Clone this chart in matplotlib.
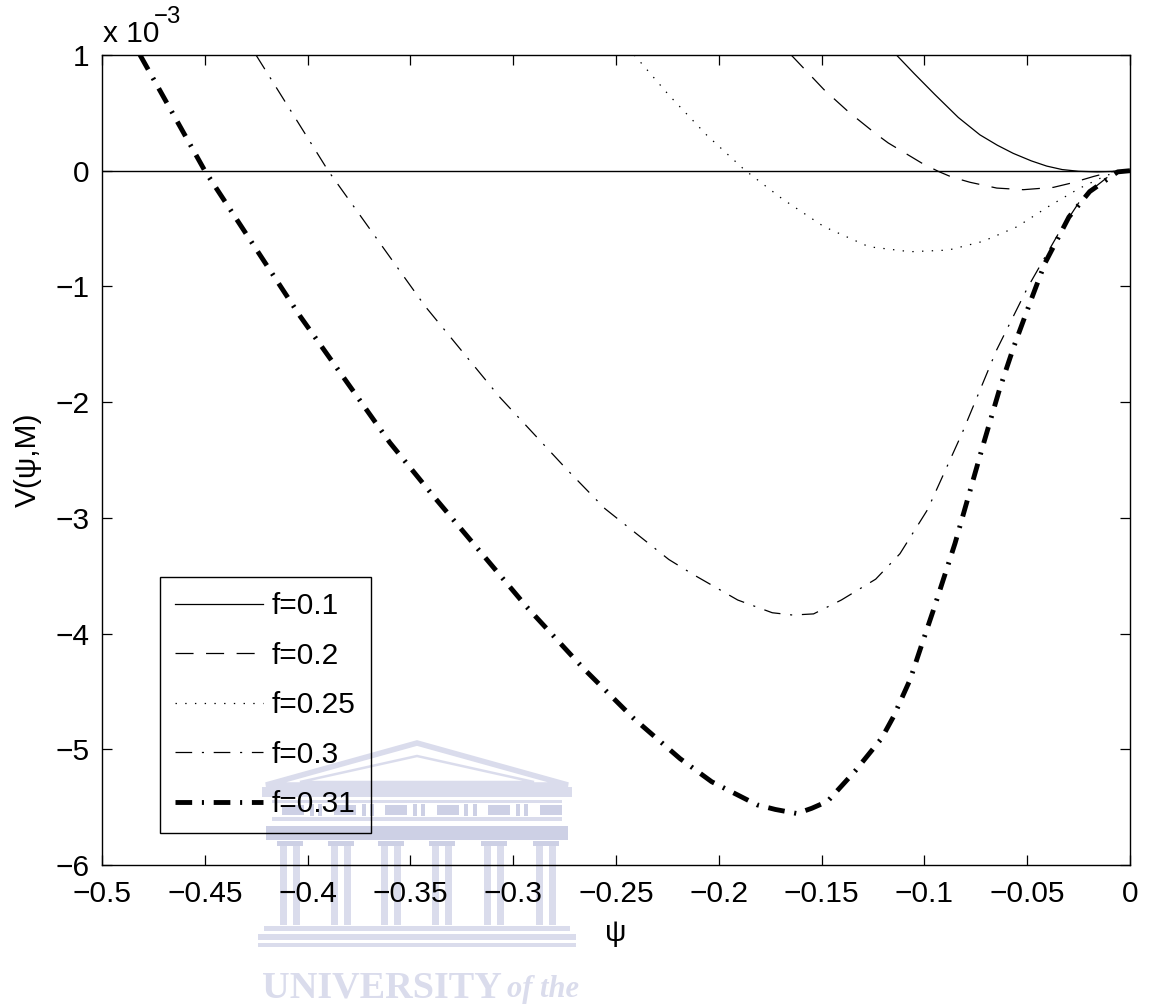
import numpy as np
import matplotlib
matplotlib.use("Agg")
import matplotlib.pyplot as plt
from matplotlib.patches import Rectangle, Polygon

# =====================================
# Potential curves V(psi, M), in units of 1e-3
# =====================================

psi_f01 = [-0.1136, -0.105, -0.095, -0.0835, -0.073, -0.0645, -0.0568, -0.048,
           -0.0405, -0.033, -0.025, -0.016, -0.008, 0.0]
V_f01 = [1.0, 0.84, 0.66, 0.46, 0.31, 0.22, 0.15, 0.085,
         0.04, 0.01, -0.005, -0.01, -0.006, 0.0]

psi_f02 = [-0.1648, -0.1488, -0.137, -0.1237, -0.1176, -0.1013, -0.0932, -0.0867,
           -0.0778, -0.0648, -0.0519, -0.0373, -0.0284, -0.0178, -0.0081, 0.0]
V_f02 = [1.0, 0.70, 0.51, 0.32, 0.24, 0.066, -0.006, -0.055,
         -0.10, -0.15, -0.164, -0.144, -0.106, -0.05, -0.006, 0.0]

psi_f025 = [-0.2411, -0.2243, -0.2059, -0.1874, -0.169, -0.1488, -0.127, -0.1069,
            -0.0884, -0.0716, -0.0549, -0.0398, -0.0247, -0.0112, 0.0]
V_f025 = [1.0, 0.654, 0.308, 0.006, -0.245, -0.484, -0.657, -0.700,
          -0.686, -0.611, -0.484, -0.311, -0.153, -0.037, 0.0]

psi_f03 = [-0.4251, -0.390, -0.3429, -0.3064, -0.274, -0.2554, -0.2243, -0.2124,
           -0.1908, -0.174, -0.164, -0.1539, -0.1404, -0.1237, -0.1119, -0.0985,
           -0.0817, -0.0649, -0.0498, -0.0347, -0.023, -0.0096, 0.0]
V_f03 = [1.0, 0.0, -1.17, -1.96, -2.58, -2.92, -3.36, -3.49,
         -3.71, -3.82, -3.84, -3.83, -3.71, -3.53, -3.31, -2.93,
         -2.27, -1.55, -1.01, -0.54, -0.225, -0.037, 0.0]

psi_f031 = [-0.4815, -0.450, -0.4037, -0.36, -0.3389, -0.2934, -0.2659, -0.2416,
            -0.2189, -0.2035, -0.1814, -0.1725, -0.162, -0.1548, -0.1471, -0.1338,
            -0.1208, -0.1151, -0.107, -0.1008, -0.0953, -0.0851, -0.0716, -0.0633,
            -0.0565, -0.0482, -0.0414, -0.0297, -0.0196, -0.006, 0.0]
V_f031 = [1.0, 0.0, -1.256, -2.35, -2.81, -3.77, -4.30, -4.73,
          -5.08, -5.28, -5.48, -5.52, -5.555, -5.51, -5.45, -5.19,
          -4.905, -4.72, -4.40, -4.07, -3.78, -3.22, -2.38, -1.88,
          -1.52, -1.12, -0.80, -0.40, -0.18, -0.01, 0.0]

labels = ["f=0.1", "f=0.2", "f=0.25", "f=0.3", "f=0.31"]

xticks = [-0.5, -0.45, -0.4, -0.35, -0.3, -0.25, -0.2, -0.15, -0.1, -0.05, 0.0]
xtick_labels = ["\u22120.5", "\u22120.45", "\u22120.4", "\u22120.35", "\u22120.3",
                "\u22120.25", "\u22120.2", "\u22120.15", "\u22120.1", "\u22120.05", "0"]
yticks = [-6, -5, -4, -3, -2, -1, 0, 1]
ytick_labels = ["\u22126", "\u22125", "\u22124", "\u22123", "\u22122", "\u22121", "0", "1"]

# =====================================
# Style
# =====================================

plt.rcParams["font.family"] = ["Liberation Sans", "DejaVu Sans"]
plt.rcParams["lines.scale_dashes"] = False

FS = 21.5
W, H = 1159, 1006

fig = plt.figure(figsize=(W / 100, H / 100), dpi=100, facecolor="white")
ax = fig.add_axes([102 / W, 1 - 865 / H, 1028 / W, 810 / H])
ax.set_facecolor("none")

# =====================================
# Watermark (drawn underneath the axes)
# =====================================

wm_light = "#dadcec"
wm_mid = "#cdd0e5"


def wm_rect(x0, y0, x1, y1, color=wm_light):
    fig.add_artist(Rectangle((x0 / W, 1 - y1 / H), (x1 - x0) / W, (y1 - y0) / H,
                             transform=fig.transFigure, facecolor=color,
                             edgecolor="none", zorder=-5))


def wm_poly(pts, lw, color=wm_light):
    fig.add_artist(Polygon([(x / W, 1 - y / H) for x, y in pts], closed=True,
                           fill=False, edgecolor=color, lw=lw,
                           transform=fig.transFigure, zorder=-5))


wm_poly([(266, 785), (417, 743), (568, 785)], 4.0)
wm_poly([(300, 782), (417, 756), (534, 782)], 1.8)
wm_rect(262, 787, 572, 797)
wm_rect(272, 800, 562, 803)
for i in range(6):
    bx = 282 + i * 51.5
    wm_rect(bx, 805, bx + 22, 815, wm_mid)
    if i < 5:
        wm_rect(bx + 28, 804, bx + 32, 816, wm_mid)
        wm_rect(bx + 36, 804, bx + 40, 816, wm_mid)
wm_rect(272, 817, 562, 821)
wm_rect(266, 826, 568, 840, wm_mid)
for cx in [290, 341, 391, 442, 494, 546]:
    wm_rect(cx - 13, 841, cx + 13, 846, wm_mid)
    wm_rect(cx - 10, 846, cx - 3, 925)
    wm_rect(cx + 3, 846, cx + 10, 925)
wm_rect(264, 926, 570, 931)
wm_rect(258, 934, 576, 940)
wm_rect(258, 943, 576, 947)
fig.text(262 / W, 1 - 997 / H, "UNIVERSITY", family=["Liberation Serif"],
         weight="bold", fontsize=27.5, color=wm_light, ha="left", va="baseline",
         zorder=-5)
fig.text(507 / W, 1 - 997 / H, "of the", family=["Liberation Serif"],
         style="italic", weight="bold", fontsize=22, color=wm_light,
         ha="left", va="baseline", zorder=-5)

# =====================================
# Curves
# =====================================

ax.axhline(0, color="black", lw=1.0)

ax.plot(psi_f01, V_f01, color="black", lw=0.9, ls="-", label=labels[0])
ax.plot(psi_f02, V_f02, color="black", lw=0.9, ls=(0, (13, 9)), label=labels[1])
ax.plot(psi_f025, V_f025, color="black", lw=0.9, ls=(0, (1, 6)), label=labels[2])
ax.plot(psi_f03, V_f03, color="black", lw=0.9, ls=(0, (12, 7, 1.5, 7)),
        label=labels[3])
ax.plot(psi_f031, V_f031, color="black", lw=3.5, ls=(0, (12, 7, 1.5, 7)),
        label=labels[4])

ax.set_xlim(-0.5, 0)
ax.set_ylim(-6, 1)
ax.set_xticks(xticks)
ax.set_xticklabels(xtick_labels)
ax.set_yticks(yticks)
ax.set_yticklabels(ytick_labels)
ax.tick_params(direction="in", top=True, right=True, length=7, width=0.9,
               labelsize=FS)
ax.tick_params(axis="x", pad=11)
ax.tick_params(axis="y", pad=9)
for sp in ax.spines.values():
    sp.set_linewidth(1.0)

ax.set_xlabel("\u03c8", fontsize=FS, labelpad=8)
ax.set_ylabel("V(\u03c8,M)", fontsize=FS, labelpad=10)

# exponent label above the y axis
ax.annotate("x 10", xy=(0, 1), xycoords="axes fraction", xytext=(1, 13),
            textcoords="offset pixels", fontsize=FS, ha="left", va="baseline")
ax.annotate("\u22123", xy=(0, 1), xycoords="axes fraction", xytext=(52, 32),
            textcoords="offset pixels", fontsize=FS * 0.8, ha="left",
            va="baseline")

leg = ax.legend(loc="lower left", bbox_to_anchor=(0.0564, 0.0395),
                borderaxespad=0, fontsize=FS, fancybox=False, framealpha=1,
                facecolor="none", edgecolor="black", handlelength=2.95,
                handletextpad=0.3, labelspacing=0.72, borderpad=0.5)
leg.get_frame().set_linewidth(1.0)

fig.savefig("out.png", dpi=100)
